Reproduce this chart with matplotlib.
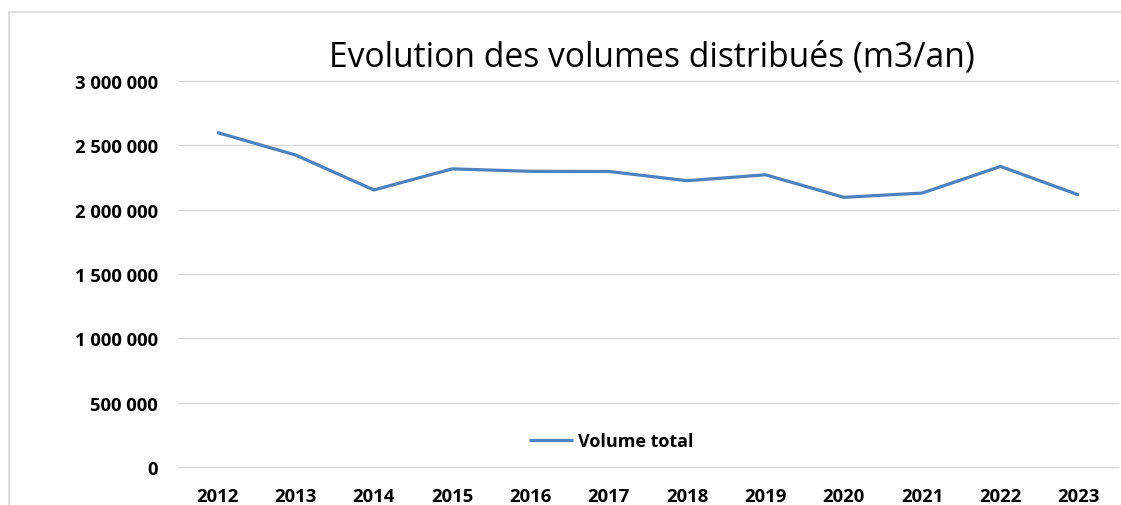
import matplotlib
matplotlib.use('Agg')
import matplotlib.pyplot as plt
from matplotlib.lines import Line2D

years = ['2012', '2013', '2014', '2015', '2016', '2017', '2018', '2019', '2020', '2021', '2022', '2023']
volumes = [2600000, 2425000, 2153000, 2317000, 2298000, 2297000, 2225000, 2271000, 2096000, 2129000, 2336000, 2114000]
y_ticks = [0, 500000, 1000000, 1500000, 2000000, 2500000, 3000000]

W, H = 1121, 506
LINE, GRID, BORDER = '#4F81BD', '#D9D9D9', '#D9D9D9'
FONT = 'Open Sans'

fig = plt.figure(figsize=(W / 100, H / 100), dpi=100)
fig.patch.set_facecolor('white')

# plot area in pixels: x 178..1118, y 82..468 (top..bottom)
ax = fig.add_axes([178 / W, (H - 468) / H, (1118 - 178) / W, (468 - 82) / H])
ax.plot(range(len(years)), volumes, color=LINE, linewidth=2.3, solid_joinstyle='round', solid_capstyle='butt', label='Volume total', zorder=3)

ax.set_xlim(-0.5, len(years) - 0.5)
ax.set_ylim(0, 3000000)
ax.set_yticks(y_ticks)
ax.set_yticklabels([f'{v:,}'.replace(',', ' ') for v in y_ticks], fontfamily=FONT, fontweight='bold', fontsize=13.3)
ax.set_xticks(range(len(years)))
ax.set_xticklabels(years, fontfamily=FONT, fontweight='bold', fontsize=13.3)
ax.tick_params(axis='y', length=0, pad=14.4)
ax.tick_params(axis='x', length=0, pad=14.5)
ax.grid(axis='y', color=GRID, linewidth=1.0, zorder=0)
ax.set_axisbelow(True)
for gl in ax.get_ygridlines():
    gl.set_clip_on(False)
for s in ax.spines.values():
    s.set_visible(False)

fig.text(651.5 / W, (H - 66) / H, 'Evolution des volumes distribués (m3/an)', ha='center', va='baseline', fontfamily=FONT, fontsize=24.2, color='#000000')

leg = ax.legend(loc='center', bbox_to_anchor=(611.5 / W, (H - 442) / H), bbox_transform=fig.transFigure, frameon=False,
                prop={'family': FONT, 'weight': 'bold', 'size': 13}, handlelength=2.4, handletextpad=0.3, borderpad=0)

# chart area border (only top and left visible in the crop)
fig.add_artist(Line2D([9 / W, 9 / W], [0, (H - 13) / H], color=BORDER, linewidth=1.2, transform=fig.transFigure))
fig.add_artist(Line2D([9 / W, 1], [(H - 13) / H, (H - 13) / H], color=BORDER, linewidth=1.2, transform=fig.transFigure))

fig.savefig('out.png', dpi=100, facecolor='white')
